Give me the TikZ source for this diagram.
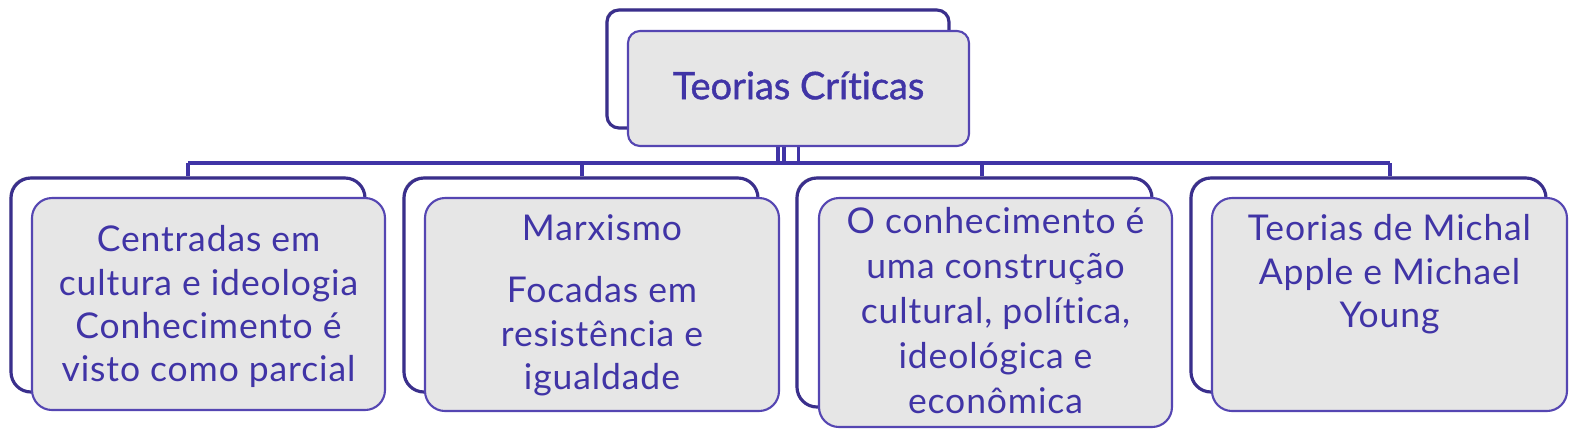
\documentclass[tikz,border=0pt]{standalone}
\usepackage{fontspec}
\setmainfont{Lato}[LetterSpace=2.5, Ligatures=NoCommon]
\newfontfamily\titlefont{Lato}[FakeBold=1.2, Ligatures=NoCommon]
\usepackage{tikz}
\usetikzlibrary{shapes,backgrounds,positioning,fit,shadows}
\definecolor{ink}{HTML}{4034A6}
\definecolor{edge}{HTML}{5546B2}
\definecolor{boxgray}{HTML}{E6E6E6}
\definecolor{frame}{HTML}{3A2F8C}

\begin{document}
\begin{tikzpicture}[x=0.1mm, y=-0.1mm]
		\tikzstyle{Back}	= [rectangle, rounded corners=2mm, draw=frame, line width=0.9pt, fill=white, inner sep=0pt, general shadow={fill=gray!60, shadow xshift=-0.4pt, shadow yshift=0.4pt}]
		\tikzstyle{Front}	= [rectangle, rounded corners=2mm, draw=edge, line width=0.6pt, fill=boxgray, inner sep=0pt]
		\tikzstyle{Label}	= [text=ink, align=center, anchor=north, inner sep=0pt, font=\fontsize{10.1}{12.3}\selectfont]
		\tikzstyle{Link}	= [draw=ink, line width=1pt]

		\useasboundingbox (0,0) rectangle (1582,443);

		% title
		\node (tb) at (778, 69) [Back, rounded corners=1.2mm, minimum width=34.2mm, minimum height=11.8mm] {};
		\node (tf) at (798.5, 88.5) [Front, rounded corners=1.2mm, minimum width=34.1mm, minimum height=11.5mm] {};
		\node (tt) at (798.5, 85.5) [text=ink, inner sep=0pt, font=\titlefont\fontsize{10.8}{14}\selectfont] {Teorias Críticas};

		% children
		\node (b1) at (188, 285) [Back, minimum width=35.4mm, minimum height=21.4mm] {};
		\node (f1) at (208.5, 304) [Front, minimum width=35.3mm, minimum height=21.2mm] {};
		\node (b2) at (581, 285) [Back, minimum width=35.4mm, minimum height=21.4mm] {};
		\node (f2) at (602, 304.5) [Front, minimum width=35.4mm, minimum height=21.3mm] {};
		\node (b3) at (974.5, 292.5) [Back, minimum width=35.5mm, minimum height=22.9mm] {};
		\node (f3) at (995.5, 312.5) [Front, minimum width=35.3mm, minimum height=22.9mm] {};
		\node (b4) at (1368.5, 285) [Back, minimum width=35.5mm, minimum height=21.4mm] {};
		\node (f4) at (1389.5, 304.5) [Front, minimum width=35.5mm, minimum height=21.3mm] {};

		\node (l1) at (208.5, 225) [Label] {Centradas em\\cultura e ideologia\\Conhecimento é\\visto como parcial};
		\node (l2) at (602, 214) [Label] {Marxismo\\[5.4pt]Focadas em\\resistência e\\igualdade};
		\node (l3) at (995.5, 207) [Label, font=\fontsize{10.1}{12.8}\selectfont] {O conhecimento é\\uma construção\\cultural, política,\\ideológica e\\econômica};
		\node (l4) at (1389.5, 214) [Label] {Teorias de Michal\\Apple e Michael\\Young};

		\coordinate (tm) at (784, 146);
		\coordinate (h1) at (188, 163);
		\coordinate (h2) at (582, 163);
		\coordinate (h3) at (982, 163);
		\coordinate (h4) at (1390, 163);

		\begin{scope}[on background layer]
			\draw [-] (tb.south) to (tb.south |- h1) [Link];
			\draw [-] (tm) to (tm |- h1) [Link];
			\draw [-] (tf.south) to (tf.south |- h1) [Link];
			\draw [-] (h1) to (h4) [Link];
			\draw [-] (h1) to (h1 |- b1.north) [Link];
			\draw [-] (h2) to (h2 |- b2.north) [Link];
			\draw [-] (h3) to (h3 |- b3.north) [Link];
			\draw [-] (h4) to (h4 |- b4.north) [Link];
		\end{scope}
	\end{tikzpicture}
\end{document}
